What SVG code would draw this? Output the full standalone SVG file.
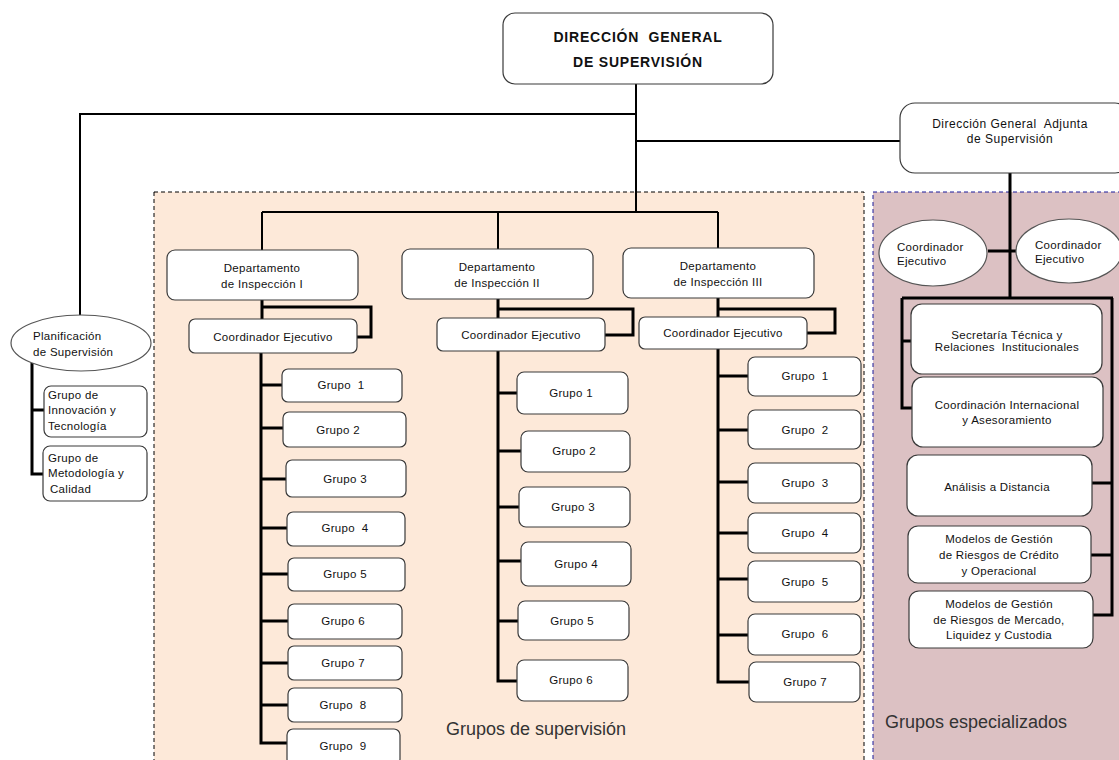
<svg xmlns="http://www.w3.org/2000/svg" width="1119" height="760" viewBox="0 0 1119 760">
<style>
.bg{fill:#fff}
.box{fill:#fff;stroke:#3a3a3a;stroke-width:1.2}
.ell{fill:#fff;stroke:#555;stroke-width:1.2}
.t{font-family:"Liberation Sans",Arial,sans-serif;font-size:11.5px;letter-spacing:0.3px;fill:#111;text-anchor:middle}
.tl{text-anchor:start}
.b{font-weight:bold;font-size:14px;letter-spacing:0.8px}
.big{font-size:18px;letter-spacing:0;fill:#333;text-anchor:start}
.ln{stroke:#000;stroke-width:2;fill:none}
.th{stroke:#000;stroke-width:3;fill:none}
</style>
<rect class="bg" x="0" y="0" width="1119" height="760"/>
<g id="areas">
<rect x="154" y="192" width="710" height="580" fill="#fde9d9" stroke="#000" stroke-width="1" stroke-dasharray="4,3"/>
<rect x="873" y="192" width="260" height="580" fill="#dcc1c3" stroke="#1a1a9a" stroke-width="1" stroke-dasharray="4,3"/>
<text class="t big" x="446" y="735">Grupos de supervisión</text>
<text class="t big" x="885" y="728">Grupos especializados</text>
</g>
<g id="connectors">
<path class="ln" d="M636,84 V212"/>
<path class="ln" d="M636,114 H80 V315"/>
<path class="ln" d="M636,141 H900"/>
<path class="ln" d="M262,212 H718 M262,212 V250 M498,212 V249 M718,212 V248"/>
<path class="th" d="M262,300 V353 M262,307 H371 V337 H357"/>
<path class="th" d="M261,353 V743 H287 M261,385 H282 M261,428 H283 M261,479 H286 M261,528 H287 M261,574 H288 M261,621 H288 M261,663 H288 M261,705 H288"/>
<path class="th" d="M498,299 V318 M498,309 H633 V335 H605"/>
<path class="th" d="M498,351 V681 H517 M498,393 H517 M498,451 H521 M498,507 H519 M498,561 H521 M498,621 H518"/>
<path class="th" d="M718,298 V317 M718,309 H835 V333 H807"/>
<path class="th" d="M718,349 V682 H749 M718,376 H748 M718,430 H748 M718,482 H748 M718,533 H748 M718,579 H748 M718,635 H748"/>
<path class="th" d="M32,363 V474 H43 M32,410 H44"/>
<path class="th" d="M1010,173 V298 M988,251 H1017 M902,298 H1113 M902,298 V408 H912 M902,341 H911 M1112,298 V615 H1093 M1112,483 H1092 M1112,555 H1091"/>
</g>
<g id="n-dgs">
<rect class="box" x="503" y="13" width="270" height="71" rx="12"/>
<text class="t b" x="638" y="42" xml:space="preserve">DIRECCIÓN  GENERAL</text>
<text class="t b" x="638" y="67">DE SUPERVISIÓN</text>
</g>
<g id="n-dgas">
<rect class="box" x="900" y="103" width="230" height="70" rx="15"/>
<text class="t" x="1010" y="128" style="font-size:12px;letter-spacing:0.5px" xml:space="preserve">Dirección General  Adjunta</text>
<text class="t" x="1010" y="143" style="font-size:12px;letter-spacing:0.5px">de Supervisión</text>
</g>
<g id="n-plan">
<ellipse class="ell" cx="81" cy="343" rx="70" ry="28"/>
<text class="t tl" x="33" y="340">Planificación</text>
<text class="t tl" x="33" y="356">de Supervisión</text>
</g>
<g id="n-innov">
<rect class="box" x="44" y="386" width="103" height="51" rx="7"/>
<text class="t tl" x="48" y="399">Grupo de</text>
<text class="t tl" x="48" y="414">Innovación y</text>
<text class="t tl" x="48" y="430">Tecnología</text>
</g>
<g id="n-metod">
<rect class="box" x="43" y="446" width="104" height="55" rx="7"/>
<text class="t tl" x="48" y="462">Grupo de</text>
<text class="t tl" x="48" y="477">Metodología y</text>
<text class="t tl" x="50" y="493">Calidad</text>
</g>
<g id="n-dep1">
<rect class="box" x="167" y="250" width="191" height="50" rx="8"/>
<text class="t" x="262" y="272">Departamento</text>
<text class="t" x="262" y="288">de Inspección I</text>
</g>
<g id="n-coord1">
<rect class="box" x="189" y="319" width="168" height="34" rx="6"/>
<text class="t" x="273" y="341">Coordinador Ejecutivo</text>
</g>
<g id="n-dep2">
<rect class="box" x="402" y="249" width="191" height="50" rx="8"/>
<text class="t" x="497" y="271">Departamento</text>
<text class="t" x="497" y="287">de Inspección II</text>
</g>
<g id="n-coord2">
<rect class="box" x="437" y="318" width="168" height="33" rx="6"/>
<text class="t" x="521" y="339">Coordinador Ejecutivo</text>
</g>
<g id="n-dep3">
<rect class="box" x="623" y="248" width="191" height="50" rx="8"/>
<text class="t" x="718" y="270">Departamento</text>
<text class="t" x="718" y="286">de Inspección III</text>
</g>
<g id="n-coord3">
<rect class="box" x="639" y="317" width="168" height="32" rx="6"/>
<text class="t" x="723" y="337">Coordinador Ejecutivo</text>
</g>
<g id="n-g1-1"><rect class="box" x="282" y="369" width="120" height="33" rx="6"/><text class="t" x="341" y="389" xml:space="preserve">Grupo  1</text></g>
<g id="n-g1-2"><rect class="box" x="283" y="412" width="123" height="35" rx="6"/><text class="t" x="338" y="434">Grupo 2</text></g>
<g id="n-g1-3"><rect class="box" x="286" y="460" width="120" height="37" rx="6"/><text class="t" x="345" y="483">Grupo 3</text></g>
<g id="n-g1-4"><rect class="box" x="287" y="512" width="118" height="34" rx="6"/><text class="t" x="345" y="532" xml:space="preserve">Grupo  4</text></g>
<g id="n-g1-5"><rect class="box" x="288" y="558" width="117" height="33" rx="6"/><text class="t" x="345" y="578">Grupo 5</text></g>
<g id="n-g1-6"><rect class="box" x="288" y="604" width="114" height="35" rx="6"/><text class="t" x="343" y="625">Grupo 6</text></g>
<g id="n-g1-7"><rect class="box" x="288" y="646" width="114" height="34" rx="6"/><text class="t" x="343" y="667">Grupo 7</text></g>
<g id="n-g1-8"><rect class="box" x="288" y="688" width="114" height="34" rx="6"/><text class="t" x="343" y="709" xml:space="preserve">Grupo  8</text></g>
<g id="n-g1-9"><rect class="box" x="287" y="729" width="113" height="36" rx="6"/><text class="t" x="343" y="750" xml:space="preserve">Grupo  9</text></g>
<g id="n-g2-1"><rect class="box" x="517" y="372" width="111" height="42" rx="7"/><text class="t" x="571" y="397">Grupo 1</text></g>
<g id="n-g2-2"><rect class="box" x="521" y="431" width="109" height="41" rx="7"/><text class="t" x="574" y="455">Grupo 2</text></g>
<g id="n-g2-3"><rect class="box" x="519" y="487" width="111" height="40" rx="7"/><text class="t" x="573" y="511">Grupo 3</text></g>
<g id="n-g2-4"><rect class="box" x="521" y="542" width="110" height="44" rx="7"/><text class="t" x="576" y="568">Grupo 4</text></g>
<g id="n-g2-5"><rect class="box" x="518" y="601" width="111" height="39" rx="7"/><text class="t" x="572" y="625">Grupo 5</text></g>
<g id="n-g2-6"><rect class="box" x="517" y="660" width="111" height="41" rx="7"/><text class="t" x="571" y="684">Grupo 6</text></g>
<g id="n-g3-1"><rect class="box" x="748" y="357" width="113" height="39" rx="7"/><text class="t" x="805" y="380" xml:space="preserve">Grupo  1</text></g>
<g id="n-g3-2"><rect class="box" x="748" y="410" width="113" height="39" rx="7"/><text class="t" x="805" y="434" xml:space="preserve">Grupo  2</text></g>
<g id="n-g3-3"><rect class="box" x="748" y="463" width="113" height="40" rx="7"/><text class="t" x="805" y="487" xml:space="preserve">Grupo  3</text></g>
<g id="n-g3-4"><rect class="box" x="748" y="513" width="113" height="40" rx="7"/><text class="t" x="805" y="537" xml:space="preserve">Grupo  4</text></g>
<g id="n-g3-5"><rect class="box" x="748" y="561" width="113" height="41" rx="7"/><text class="t" x="805" y="586" xml:space="preserve">Grupo  5</text></g>
<g id="n-g3-6"><rect class="box" x="748" y="614" width="113" height="41" rx="7"/><text class="t" x="805" y="638" xml:space="preserve">Grupo  6</text></g>
<g id="n-g3-7"><rect class="box" x="749" y="662" width="111" height="40" rx="7"/><text class="t" x="805" y="686">Grupo 7</text></g>
<g id="n-ce1">
<ellipse class="ell" cx="933" cy="253" rx="54" ry="33"/>
<text class="t tl" x="897" y="251">Coordinador</text>
<text class="t tl" x="897" y="265">Ejecutivo</text>
</g>
<g id="n-ce2">
<ellipse class="ell" cx="1069" cy="251" rx="53" ry="32"/>
<text class="t tl" x="1035" y="249">Coordinador</text>
<text class="t tl" x="1035" y="263">Ejecutivo</text>
</g>
<g id="n-secre">
<rect class="box" x="911" y="304" width="191" height="70" rx="11"/>
<text class="t" x="1007" y="339">Secretaría Técnica y</text>
<text class="t" x="1007" y="351" xml:space="preserve">Relaciones  Institucionales</text>
</g>
<g id="n-coordint">
<rect class="box" x="912" y="377" width="191" height="70" rx="11"/>
<text class="t" x="1007" y="409">Coordinación Internacional</text>
<text class="t" x="1007" y="424">y Asesoramiento</text>
</g>
<g id="n-analisis">
<rect class="box" x="907" y="455" width="185" height="61" rx="11"/>
<text class="t" x="997" y="491">Análisis a Distancia</text>
</g>
<g id="n-credito">
<rect class="box" x="908" y="526" width="183" height="57" rx="10"/>
<text class="t" x="999" y="543">Modelos de Gestión</text>
<text class="t" x="999" y="559">de Riesgos de Crédito</text>
<text class="t" x="999" y="575">y Operacional</text>
</g>
<g id="n-mercado">
<rect class="box" x="909" y="591" width="184" height="57" rx="10"/>
<text class="t" x="999" y="608">Modelos de Gestión</text>
<text class="t" x="999" y="624">de Riesgos de Mercado,</text>
<text class="t" x="999" y="639">Liquidez y Custodia</text>
</g>
</svg>
